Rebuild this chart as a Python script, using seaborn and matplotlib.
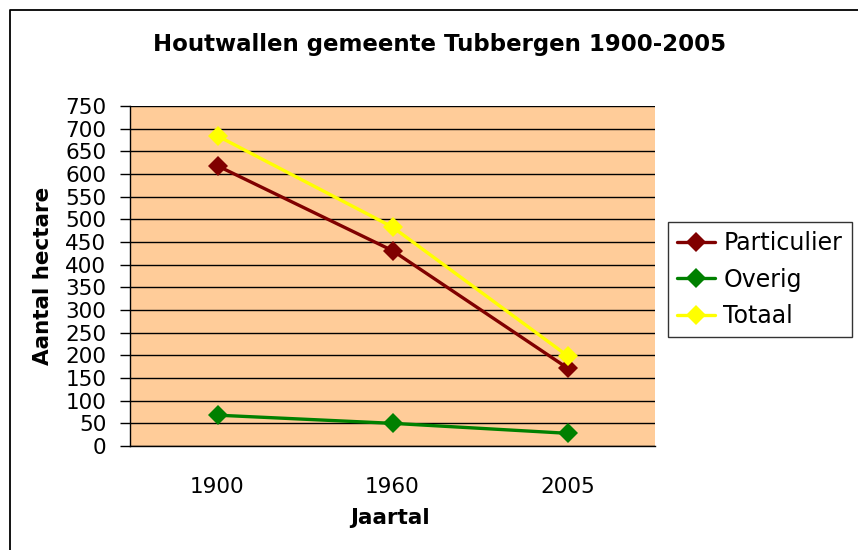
import matplotlib
matplotlib.use("Agg")
import matplotlib.pyplot as plt
import seaborn as sns
import pandas as pd
from matplotlib.lines import Line2D

years = ["1900", "1960", "2005"]
particulier = [618, 431, 172]
overig = [68, 50, 28]
totaal = [684, 483, 199]
series_names = ["Particulier", "Overig", "Totaal"]
colors = ["#800000", "#008000", "#FFFF00"]

df = pd.DataFrame({
    "Jaartal": years * 3,
    "Aantal hectare": particulier + overig + totaal,
    "Serie": [series_names[0]] * 3 + [series_names[1]] * 3 + [series_names[2]] * 3,
})

sns.set_style("white")
plt.rcParams["font.family"] = ["DejaVu Sans"]
plt.rcParams["text.color"] = "black"
plt.rcParams["xtick.color"] = "black"
plt.rcParams["ytick.color"] = "black"
plt.rcParams["axes.labelcolor"] = "black"

fig = plt.figure(figsize=(8.58, 5.5), dpi=100)
ax = fig.add_axes([130 / 858, 1 - 446 / 550, (655 - 130) / 858, (446 - 106) / 550])
ax.set_facecolor("#FFCC99")

sns.lineplot(data=df, x="Jaartal", y="Aantal hectare", hue="Serie",
             hue_order=series_names, palette=colors, marker="D",
             markersize=10, markeredgewidth=0, linewidth=2.4, sort=False, ax=ax,
             zorder=3)

ax.set_xlim(-0.5, 2.5)
ax.set_ylim(0, 750)
ax.set_yticks(range(0, 751, 50))
ax.yaxis.grid(True, color="black", linewidth=1.0)
ax.set_axisbelow(True)
for s in ["top", "right"]:
    ax.spines[s].set_visible(False)
for s in ["left", "bottom"]:
    ax.spines[s].set_color("black")
    ax.spines[s].set_linewidth(1.0)

ax.set_xticks([0, 1, 2])
ax.set_xticklabels(years)
ax.set_xticks([-0.5, 0.5, 1.5, 2.5], minor=True)
ax.tick_params(axis="x", which="major", length=0, pad=22, labelsize=15.5, labelcolor="black")
ax.tick_params(axis="x", which="minor", length=7, width=1, color="black", direction="out")
ax.tick_params(axis="y", which="major", length=7, width=1, color="black", direction="out",
               labelsize=15.5, pad=10, left=True, labelcolor="black")

ax.set_xlabel("")
ax.set_ylabel("")
fig.text(390 / 858, 1 - 518 / 550, "Jaartal", ha="center", va="center",
         fontsize=15.5, fontweight="bold", color="black")
fig.text(43 / 858, 1 - 276 / 550, "Aantal hectare", ha="center", va="center",
         fontsize=15.5, fontweight="bold", rotation=90, color="black")

leg = ax.legend(loc="upper left", bbox_to_anchor=(668 / 858, 1 - 222 / 550),
                bbox_transform=fig.transFigure, frameon=True, fancybox=False,
                fontsize=17, handlelength=1.6, borderpad=0.4, labelspacing=0.52,
                handletextpad=0.35, borderaxespad=0)
leg.get_frame().set_edgecolor("black")
leg.get_frame().set_linewidth(1.0)
for t in leg.get_texts():
    t.set_color("black")

fig.text(440 / 858, 1 - 44 / 550, "Houtwallen gemeente Tubbergen 1900-2005",
         ha="center", va="center", fontsize=16.5, fontweight="bold", color="black")

fig.lines.append(Line2D([10 / 858, 10 / 858, 1.0], [0.0, 1 - 10 / 550, 1 - 10 / 550],
                        transform=fig.transFigure, color="black", linewidth=1.3))

fig.savefig("out.png", dpi=100)
